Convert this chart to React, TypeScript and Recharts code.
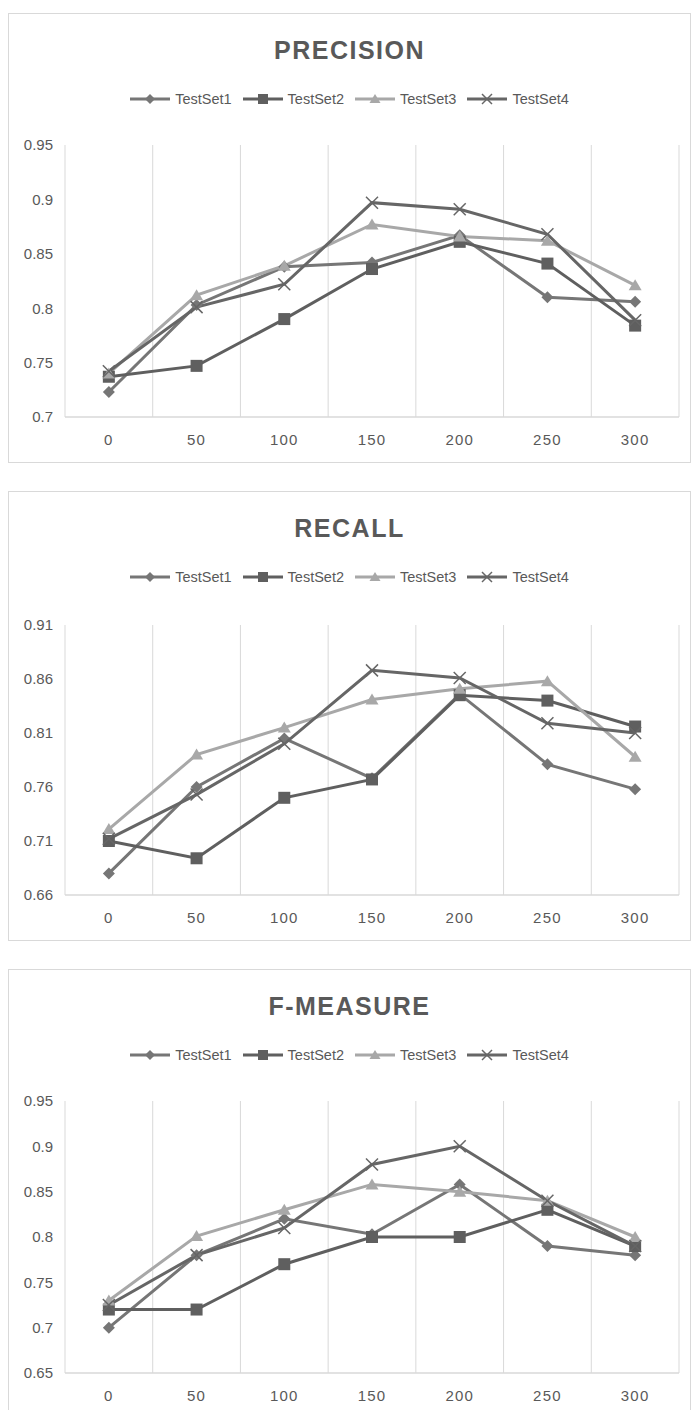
import React from "react";
import { LineChart, Line, XAxis, YAxis, ReferenceLine } from "recharts";

// sample sizes along the x axis
const xValues = [0, 50, 100, 150, 200, 250, 300];
const xTicks = [0, 50, 100, 150, 200, 250, 300];
const gridBounds = [-25, 25, 75, 125, 175, 225, 275, 325];

const seriesNames = ["TestSet1", "TestSet2", "TestSet3", "TestSet4"];

// PRECISION
const precision1 = [0.723, 0.803, 0.838, 0.842, 0.867, 0.81, 0.806];
const precision2 = [0.737, 0.747, 0.79, 0.836, 0.861, 0.841, 0.784];
const precision3 = [0.74, 0.812, 0.839, 0.877, 0.866, 0.862, 0.821];
const precision4 = [0.742, 0.801, 0.822, 0.897, 0.891, 0.868, 0.789];
const precisionTicks = [0.7, 0.75, 0.8, 0.85, 0.9, 0.95];

// RECALL
const recall1 = [0.68, 0.76, 0.805, 0.768, 0.846, 0.781, 0.758];
const recall2 = [0.71, 0.694, 0.75, 0.767, 0.845, 0.84, 0.816];
const recall3 = [0.721, 0.79, 0.815, 0.841, 0.851, 0.858, 0.788];
const recall4 = [0.712, 0.753, 0.8, 0.868, 0.861, 0.819, 0.81];
const recallTicks = [0.66, 0.71, 0.76, 0.81, 0.86, 0.91];

// F-MEASURE
const fmeasure1 = [0.7, 0.78, 0.82, 0.803, 0.858, 0.79, 0.78];
const fmeasure2 = [0.72, 0.72, 0.77, 0.8, 0.8, 0.83, 0.79];
const fmeasure3 = [0.73, 0.801, 0.83, 0.858, 0.85, 0.84, 0.8];
const fmeasure4 = [0.725, 0.78, 0.81, 0.88, 0.9, 0.84, 0.79];
const fmeasureTicks = [0.65, 0.7, 0.75, 0.8, 0.85, 0.9, 0.95];

const colors = ["#767676", "#5f5f5f", "#a8a8a8", "#666666"];
const shapes = ["diamond", "square", "triangle", "cross"];
const textColor = "#595959";
const gridColor = "#d9d9d9";

const Marker = ({ shape, cx, cy, color, s = 6 }: any) => {
  if (cx == null || cy == null) return null;
  if (shape === "diamond") {
    return <polygon points={`${cx},${cy - s} ${cx + s},${cy} ${cx},${cy + s} ${cx - s},${cy}`} fill={color} />;
  }
  if (shape === "square") {
    return <rect x={cx - s} y={cy - s} width={s * 2} height={s * 2} fill={color} />;
  }
  if (shape === "triangle") {
    return <polygon points={`${cx},${cy - s} ${cx + s + 0.5},${cy + s - 1} ${cx - s - 0.5},${cy + s - 1}`} fill={color} />;
  }
  return (
    <g stroke={color} strokeWidth={1.5}>
      <line x1={cx - s} y1={cy - s} x2={cx + s} y2={cy + s} />
      <line x1={cx - s} y1={cy + s} x2={cx + s} y2={cy - s} />
    </g>
  );
};

const LegendRow = () => (
  <div style={{ display: "flex", justifyContent: "center", alignItems: "center" }}>
    {seriesNames.map((name, i) => (
      <div key={name} style={{ display: "flex", alignItems: "center", marginLeft: i === 0 ? 0 : 11 }}>
        <svg width={40} height={14}>
          <line x1={0} y1={7} x2={40} y2={7} stroke={colors[i]} strokeWidth={3} />
          <Marker shape={shapes[i]} cx={20} cy={7} color={colors[i]} s={5} />
        </svg>
        <span style={{ marginLeft: 5, fontSize: 14.5, color: textColor, fontFamily: "'Liberation Sans', sans-serif" }}>
          {name}
        </span>
      </div>
    ))}
  </div>
);

interface MetricChartProps {
  title: string;
  top: number;
  plotTop: number;
  yTicks: number[];
  series: number[][];
}

const MetricChart: React.FC<MetricChartProps> = ({ title, top, plotTop, yTicks, series }) => {
  const data = xValues.map((x, i) => ({
    x,
    s1: series[0][i],
    s2: series[1][i],
    s3: series[2][i],
    s4: series[3][i],
  }));

  return (
    <div style={{ position: "absolute", left: 8, top, width: 683, height: 450 }}>
      <div
        style={{
          position: "absolute",
          left: 0,
          top: 0,
          width: 683,
          height: 450,
          border: `1.5px solid ${gridColor}`,
          boxSizing: "border-box",
        }}
      />
      <div
        style={{
          position: "absolute",
          left: 0,
          width: 683,
          top: 22,
          textAlign: "center",
          fontFamily: "'Liberation Sans', sans-serif",
          fontWeight: "bold",
          fontSize: 25,
          letterSpacing: 1.5,
          color: textColor,
          lineHeight: "30px",
        }}
      >
        {title}
      </div>
      <div style={{ position: "absolute", left: 0, width: 683, top: 78 }}>
        <LegendRow />
      </div>
      <div style={{ position: "absolute", left: 0, top: 0 }}>
        <LineChart width={683} height={450} data={data} margin={{ top: plotTop, right: 12, bottom: 13, left: 0 }}>
          {gridBounds.map((b) => (
            <ReferenceLine key={b} x={b} stroke={gridColor} strokeWidth={1} />
          ))}
          <XAxis
            dataKey="x"
            type="number"
            domain={[-25, 325]}
            ticks={xTicks}
            tickLine={false}
            tickMargin={11}
            axisLine={{ stroke: gridColor, strokeWidth: 1.5 }}
            tick={{ fill: textColor, fontSize: 15, fontFamily: "'Liberation Sans', sans-serif", letterSpacing: 1.2 }}
            height={33}
            interval={0}
          />
          <YAxis
            type="number"
            domain={[yTicks[0], yTicks[yTicks.length - 1]]}
            ticks={yTicks}
            width={57}
            axisLine={false}
            tickLine={false}
            tickMargin={6}
            interval={0}
            tick={{ fill: textColor, fontSize: 15, fontFamily: "'Liberation Sans', sans-serif" }}
          />
          {["s1", "s2", "s3", "s4"].map((key, i) => (
            <Line
              key={key}
              dataKey={key}
              name={seriesNames[i]}
              stroke={colors[i]}
              strokeWidth={3}
              isAnimationActive={false}
              activeDot={false}
              dot={(p: any) => <Marker key={`${key}-${p.index}`} shape={shapes[i]} cx={p.cx} cy={p.cy} color={colors[i]} />}
            />
          ))}
        </LineChart>
      </div>
    </div>
  );
};

export default function App() {
  return (
    <div style={{ position: "absolute", left: 0, top: 0, width: 691, height: 1410, overflow: "hidden", background: "#fff" }}>
      <MetricChart title="PRECISION" top={13} plotTop={132} yTicks={precisionTicks} series={[precision1, precision2, precision3, precision4]} />
      <MetricChart title="RECALL" top={491} plotTop={134} yTicks={recallTicks} series={[recall1, recall2, recall3, recall4]} />
      <MetricChart title="F-MEASURE" top={969} plotTop={132} yTicks={fmeasureTicks} series={[fmeasure1, fmeasure2, fmeasure3, fmeasure4]} />
    </div>
  );
}
